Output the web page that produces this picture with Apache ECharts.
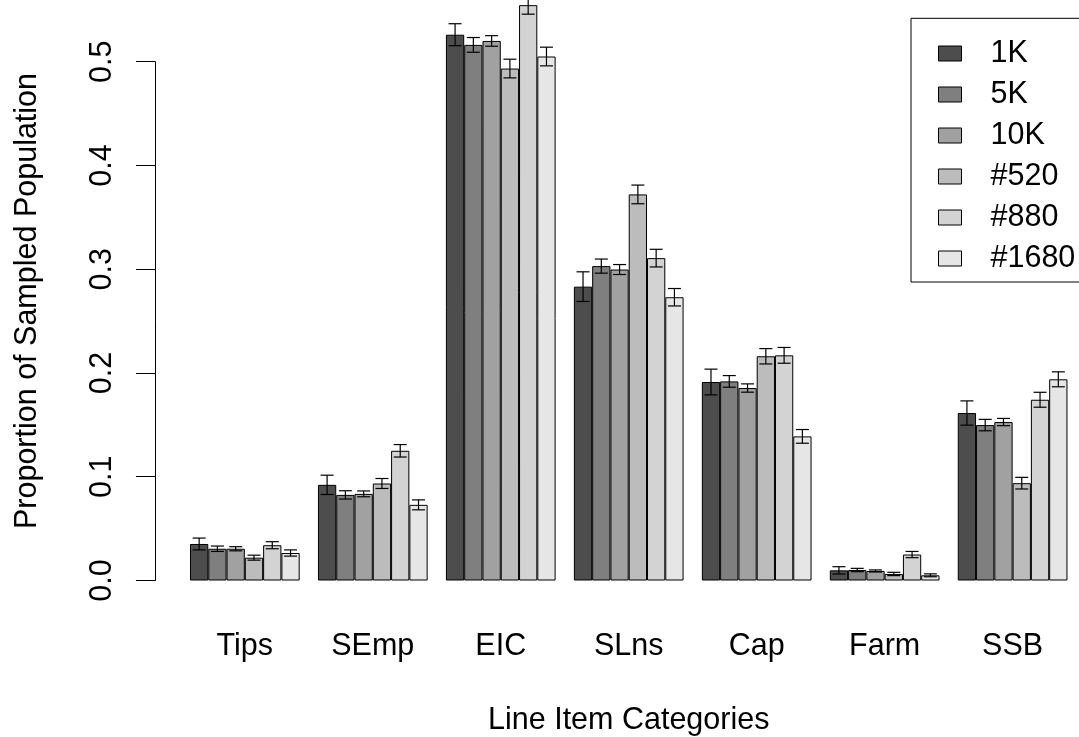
<!DOCTYPE html>
<html>
<head>
<meta charset="utf-8">
<script src="https://cdn.jsdelivr.net/npm/echarts@6/dist/echarts.min.js"></script>
<style>
  html, body { margin: 0; padding: 0; background: #ffffff; }
  #chart { width: 1079px; height: 737px; }
</style>
</head>
<body>
<div id="chart"></div>
<script>
// Line item categories along the x axis
const categories = ['Tips', 'SEmp', 'EIC', 'SLns', 'Cap', 'Farm', 'SSB'];

// Sample groups (one bar per group in each category)
const groupNames = ['1K', '5K', '10K', '#520', '#880', '#1680'];

// Proportion of sampled population, per group
const val1K   = [0.0352, 0.0922, 0.5260, 0.2832, 0.1913, 0.0098, 0.1614];
const val5K   = [0.0306, 0.0825, 0.5162, 0.3030, 0.1919, 0.0101, 0.1498];
const val10K  = [0.0306, 0.0835, 0.5200, 0.2997, 0.1855, 0.0092, 0.1527];
const val520  = [0.0220, 0.0935, 0.4934, 0.3721, 0.2161, 0.0063, 0.0938];
const val880  = [0.0340, 0.1250, 0.5545, 0.3107, 0.2170, 0.0250, 0.1742];
const val1680 = [0.0265, 0.0729, 0.5050, 0.2730, 0.1389, 0.0050, 0.1939];

// Half-width of the error bars, per group
const err1K   = [0.0057, 0.0093, 0.0106, 0.0143, 0.0124, 0.0035, 0.0117];
const err5K   = [0.0026, 0.0040, 0.0071, 0.0068, 0.0056, 0.0016, 0.0055];
const err10K  = [0.0020, 0.0028, 0.0051, 0.0048, 0.0040, 0.0010, 0.0035];
const err520  = [0.0024, 0.0048, 0.0090, 0.0090, 0.0074, 0.0016, 0.0056];
const err880  = [0.0034, 0.0060, 0.0087, 0.0085, 0.0076, 0.0030, 0.0072];
const err1680 = [0.0030, 0.0048, 0.0090, 0.0084, 0.0066, 0.0014, 0.0072];

// Y axis tick values
const yTicks = [0.0, 0.1, 0.2, 0.3, 0.4, 0.5];

const values = [val1K, val5K, val10K, val520, val880, val1680];
const errors = [err1K, err5K, err10K, err520, err880, err1680];
const grays = ['#4D4D4D', '#7F7F7F', '#A1A1A1', '#BCBCBC', '#D3D3D3', '#E6E6E6'];

const FONT = 'Liberation Sans, Arial, Helvetica, sans-serif';
const FS = 30.5;
const nGroups = groupNames.length;
const slots = nGroups + 1;          // one empty slot between category groups
const BAR_W = 18.28;

const chart = echarts.init(document.getElementById('chart'), null, { renderer: 'canvas' });

const series = [];
groupNames.forEach((name, gi) => {
  series.push({
    name: name,
    type: 'bar',
    data: values[gi],
    barWidth: BAR_W,
    barGap: '0%',
    clip: false,
    itemStyle: { color: grays[gi], borderColor: '#000000', borderWidth: 1 },
    emphasis: { disabled: true },
    z: 2
  });
});

// Error bars drawn on top of every bar
groupNames.forEach((name, gi) => {
  series.push({
    type: 'custom',
    name: name + ' err',
    clip: false,
    silent: true,
    z: 5,
    data: categories.map((c, ci) => [ci, values[gi][ci] - errors[gi][ci], values[gi][ci] + errors[gi][ci]]),
    renderItem: function (params, api) {
      const ci = api.value(0);
      const lo = api.coord([ci, api.value(1)]);
      const hi = api.coord([ci, api.value(2)]);
      const band = api.size([1, 0])[0];
      const w = band / slots;
      const x = lo[0] + (gi - (nGroups - 1) / 2) * w;
      const cap = 6.5;
      const st = { stroke: '#000000', lineWidth: 1.2, fill: null };
      return {
        type: 'group',
        children: [
          { type: 'line', shape: { x1: x, y1: lo[1], x2: x, y2: hi[1] }, style: st },
          { type: 'line', shape: { x1: x - cap, y1: lo[1], x2: x + cap, y2: lo[1] }, style: st },
          { type: 'line', shape: { x1: x - cap, y1: hi[1], x2: x + cap, y2: hi[1] }, style: st }
        ]
      };
    }
  });
});

const option = {
  backgroundColor: '#ffffff',
  animation: false,
  textStyle: { fontFamily: FONT },
  grid: {
    left: 180.86, right: 2.4, top: 61.7, bottom: 156.5,
    containLabel: false, outerBoundsMode: 'none'
  },
  xAxis: {
    type: 'category',
    data: categories,
    axisLine: { show: false },
    axisTick: { show: false },
    axisLabel: { color: '#000000', fontSize: FS, fontFamily: FONT, margin: 51, interval: 0 },
    name: 'Line Item Categories',
    nameLocation: 'middle',
    nameGap: 125,
    nameTextStyle: { color: '#000000', fontSize: FS, fontFamily: FONT }
  },
  yAxis: {
    type: 'value',
    min: yTicks[0],
    max: yTicks[yTicks.length - 1],
    interval: 0.1,
    offset: 25.9,
    splitLine: { show: false },
    axisLine: { show: true, lineStyle: { color: '#000000', width: 1 } },
    axisTick: { show: true, length: 19, lineStyle: { color: '#000000', width: 1 } },
    axisLabel: {
      color: '#000000', fontSize: FS, fontFamily: FONT, rotate: 90, margin: 37,
      formatter: v => v.toFixed(1)
    }
  },
  legend: {
    orient: 'vertical',
    left: 911,
    top: 18.3,
    padding: [19.7, 80, 8, 27],
    itemWidth: 23,
    itemHeight: 15,
    itemGap: 10,
    borderColor: '#000000',
    borderWidth: 1,
    borderRadius: 0,
    icon: 'rect',
    selectedMode: false,
    data: groupNames,
    itemStyle: { borderColor: '#000000', borderWidth: 1 },
    textStyle: { color: '#000000', fontSize: FS, fontFamily: FONT, padding: [0, 0, 0, 24] }
  },
  graphic: [{
    type: 'text',
    x: 28,
    y: 301,
    rotation: Math.PI / 2,
    style: {
      text: 'Proportion of Sampled Population',
      font: FS + 'px ' + FONT,
      fill: '#000000',
      textAlign: 'center',
      textVerticalAlign: 'middle'
    }
  }],
  series: series
};

chart.setOption(option);
</script>
</body>
</html>
